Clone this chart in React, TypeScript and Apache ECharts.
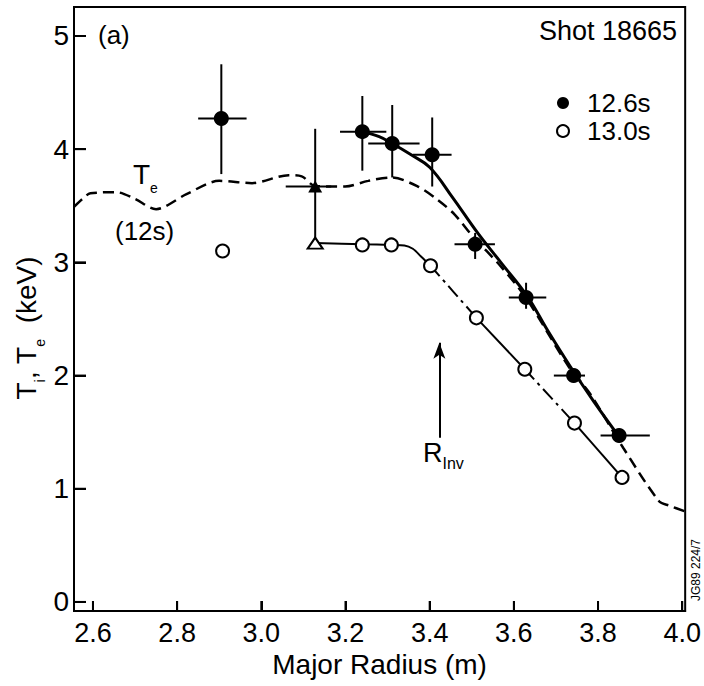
import React, { useEffect, useRef } from "react";
import * as echarts from "echarts";

const FONT = "'Liberation Sans', Arial, Helvetica, sans-serif";

// Axis ranges and ticks
const xRange = [2.555, 4.007];
const yRange = [-0.08, 5.256];
const xTicks = [2.6, 2.8, 3.0, 3.2, 3.4, 3.6, 3.8, 4.0];
const yTicks = [0, 1, 2, 3, 4, 5];

// Ti at 12.6 s (filled circles): [R (m), Ti (keV)]
const ti126 = [
  [2.905, 4.27], [3.24, 4.155], [3.311, 4.05], [3.406, 3.95],
  [3.508, 3.16], [3.629, 2.69], [3.742, 2.0], [3.85, 1.47],
];
// error bars for ti126: [xLo, xHi, yLo, yHi]
const ti126Err = [
  [2.85, 2.965, 3.78, 4.75], [3.187, 3.297, 3.81, 4.47], [3.254, 3.376, 3.75, 4.39],
  [3.36, 3.452, 3.67, 4.28], [3.459, 3.555, 3.03, 3.26], [3.588, 3.677, 2.59, 2.82],
  [3.695, 3.769, 1.94, 2.06], [3.806, 3.923, 1.41, 1.53],
];
// Ti at 13.0 s (open circles)
const ti130 = [
  [2.908, 3.1], [3.24, 3.154], [3.309, 3.154], [3.402, 2.97],
  [3.511, 2.51], [3.626, 2.056], [3.744, 1.58], [3.857, 1.1],
];
// triangles
const triFilled = [[3.128, 3.67]];
const triFilledErr = [[3.058, 3.166, 3.17, 4.18]];
const triOpen = [[3.128, 3.17]];

// fitted curve through 12.6 s
const fit126 = [
  [3.24, 4.155], [3.28, 4.11], [3.311, 4.05], [3.356, 3.95], [3.40, 3.84],
  [3.455, 3.57], [3.514, 3.26], [3.569, 3.0], [3.632, 2.7], [3.68, 2.4],
  [3.734, 2.08], [3.79, 1.77], [3.85, 1.46],
];
// curve through 13.0 s, as segments (solid / dash-dot)
const fit130Solid1 = [
  [3.128, 3.17], [3.24, 3.16], [3.309, 3.154], [3.34, 3.15], [3.36, 3.12],
  [3.38, 3.05], [3.402, 2.97],
];
const fit130DashDot1 = [[3.402, 2.97], [3.511, 2.51]];
const fit130Solid2 = [[3.511, 2.51], [3.626, 2.056]];
const fit130DashDot2 = [[3.626, 2.056], [3.744, 1.58]];
const fit130Solid3 = [[3.744, 1.58], [3.857, 1.1]];

// Te profile at 12 s (dashed)
const te12 = [
  [2.555, 3.49], [2.575, 3.56], [2.594, 3.61], [2.656, 3.62], [2.70, 3.56],
  [2.75, 3.47], [2.821, 3.6], [2.9, 3.72], [2.978, 3.7], [3.065, 3.77],
  [3.096, 3.76], [3.128, 3.675], [3.199, 3.67], [3.254, 3.72], [3.309, 3.75],
  [3.372, 3.67], [3.42, 3.55], [3.46, 3.42], [3.5, 3.24], [3.57, 2.96],
  [3.63, 2.68], [3.73, 2.08], [3.781, 1.84], [3.86, 1.36], [3.945, 0.89],
  [3.97, 0.85], [4.007, 0.8],
];

// inversion radius arrow
const rInvX = 3.423;
const rInvY = [1.45, 2.29];

const ERR_STYLE = { stroke: "#000", lineWidth: 2 };

function errItems(pts: number[][], errs: number[][]) {
  return pts.map((p, i) => [p[0], p[1], ...errs[i]]);
}

export default function App() {
  const ref = useRef<HTMLDivElement>(null);
  useEffect(() => {
    if (!ref.current) return;
    const chart = echarts.init(ref.current, undefined, { renderer: "svg" });

    const lineSeg = (name: string, data: number[][], type: any, width: number) => ({
      name,
      type: "line",
      data,
      smooth: 0.3,
      symbol: "none",
      z: 2,
      lineStyle: { color: "#000", width, type },
      silent: true,
    });

    const textGraphics: any[] = [
      {
        type: "text", x: 98, y: 35, z: 10,
        style: { text: "(a)", font: `26px ${FONT}`, fill: "#000", verticalAlign: "middle", align: "left" },
      },
      {
        type: "text", x: 677, y: 31, z: 10,
        style: { text: "Shot 18665", font: `27px ${FONT}`, fill: "#000", verticalAlign: "middle", align: "right" },
      },
      {
        type: "text", x: 133, y: 174, z: 10,
        style: {
          text: "{t|T}{s|e}", align: "left", verticalAlign: "middle",
          rich: {
            t: { fontSize: 28, fontFamily: FONT, lineHeight: 42, fill: "#000", color: "#000" },
            s: { fontSize: 14, fontFamily: FONT, lineHeight: 16, verticalAlign: "bottom", fill: "#000", color: "#000" },
          },
        },
      },
      {
        type: "text", x: 115, y: 231, z: 10,
        style: { text: "(12s)", font: `26px ${FONT}`, fill: "#000", verticalAlign: "middle", align: "left" },
      },
      {
        type: "text", x: 423, y: 453, z: 10,
        style: {
          text: "{t|R}{s|Inv}", align: "left", verticalAlign: "middle",
          rich: {
            t: { fontSize: 27, fontFamily: FONT, lineHeight: 37, fill: "#000", color: "#000" },
            s: { fontSize: 16, fontFamily: FONT, lineHeight: 18, verticalAlign: "bottom", fill: "#000", color: "#000" },
          },
        },
      },
      {
        type: "text", x: 26, y: 328, rotation: Math.PI / 2, z: 10,
        style: {
          text: "{t|T}{s|i}{t|, T}{s|e}{t|  (keV)}", align: "center", verticalAlign: "middle",
          rich: {
            t: { fontSize: 28, fontFamily: FONT, lineHeight: 42, fill: "#000", color: "#000" },
            s: { fontSize: 14, fontFamily: FONT, lineHeight: 16, verticalAlign: "bottom", fill: "#000", color: "#000" },
          },
        },
      },
      {
        type: "text", x: 696, y: 570, rotation: Math.PI / 2, z: 10,
        style: { text: "JG89 224/7", font: `12px ${FONT}`, fill: "#000", verticalAlign: "middle", align: "center" },
      },
    ];

    // tick marks as data items (kind 1 = x tick, kind 2 = y tick)
    const tickItems = [
      ...xTicks.map((v) => [v, 0.5, 1]),
      ...yTicks.map((v) => [3.0, v, 2]),
    ];

    const option: any = {
      animation: false,
      backgroundColor: "#fff",
      textStyle: { fontFamily: FONT, color: "#000" },
      grid: {
        left: 74, right: 15, top: 7, bottom: 75,
        show: true, borderColor: "#000", borderWidth: 2,
      },
      legend: {
        show: true,
        data: ["12.6s", "13.0s"],
        orient: "vertical",
        left: 551,
        top: 85,
        itemWidth: 38,
        itemHeight: 12,
        itemGap: 2,
        selectedMode: false,
        textStyle: { fontSize: 26, color: "#000", fontFamily: FONT, lineHeight: 25 },
      },
      xAxis: {
        type: "value",
        min: xRange[0],
        max: xRange[1],
        axisLine: { show: true, onZero: false, lineStyle: { color: "#000", width: 2 } },
        axisTick: {
          show: true, inside: true, length: 10, customValues: xTicks,
          lineStyle: { color: "#000", width: 2 },
        },
        axisLabel: {
          customValues: xTicks,
          formatter: (v: number) => v.toFixed(1),
          fontSize: 27, color: "#000", margin: 8, fontFamily: FONT,
        },
        splitLine: { show: false },
        name: "Major Radius (m)",
        nameLocation: "middle",
        nameGap: 36,
        nameTextStyle: { fontSize: 28, color: "#000", fontFamily: FONT },
      },
      yAxis: {
        type: "value",
        min: yRange[0],
        max: yRange[1],
        axisLine: { show: true, onZero: false, lineStyle: { color: "#000", width: 2 } },
        axisTick: {
          show: true, inside: true, length: 12, customValues: yTicks,
          lineStyle: { color: "#000", width: 2 },
        },
        axisLabel: {
          customValues: yTicks,
          formatter: (v: number) => String(Math.round(v)),
          fontSize: 28, color: "#000", margin: 5, fontFamily: FONT,
        },
        splitLine: { show: false },
      },
      series: [
        lineSeg("Te 12s", te12, [11, 6], 2.5),
        {
          ...lineSeg("fit 12.6s", fit126, "solid", 3),
          smooth: 0.4,
          markLine: {
            silent: true,
            symbol: ["none", "arrow"],
            symbolSize: [9, 16],
            label: { show: false },
            lineStyle: { color: "#000", width: 2, type: "solid" },
            data: [[{ coord: [rInvX, rInvY[0]] }, { coord: [rInvX, rInvY[1]] }]],
          },
        },
        lineSeg("fit 13.0s a", fit130Solid1, "solid", 2),
        lineSeg("fit 13.0s b", fit130DashDot1, [14, 5, 3, 5], 2),
        lineSeg("fit 13.0s c", fit130Solid2, "solid", 2),
        lineSeg("fit 13.0s d", fit130DashDot2, [14, 5, 3, 5], 2),
        lineSeg("fit 13.0s e", fit130Solid3, "solid", 2),
        {
          name: "axis ticks",
          type: "custom",
          z: 6,
          silent: true,
          data: tickItems,
          encode: { x: 0, y: 1 },
          renderItem: (_params: any, api: any) => {
            const kind = api.value(2);
            if (kind === 1) {
              const px = api.coord([api.value(0), 0.5])[0];
              const yb = api.coord([3.0, yRange[0]])[1];
              return { type: "rect", shape: { x: px - 1, y: yb - 10, width: 2, height: 10 }, style: { fill: "#000" } };
            }
            const py = api.coord([3.0, api.value(1)])[1];
            const xl = api.coord([xRange[0], 0.5])[0];
            return { type: "rect", shape: { x: xl, y: py - 1, width: 12, height: 2 }, style: { fill: "#000" } };
          },
        },
        {
          name: "error bars",
          type: "custom",
          z: 3,
          silent: true,
          data: [...errItems(ti126, ti126Err), ...errItems(triFilled, triFilledErr)],
          encode: { x: 0, y: 1 },
          renderItem: (_params: any, api: any) => {
            const x = api.value(0), y = api.value(1);
            const a = api.coord([api.value(2), y]);
            const b = api.coord([api.value(3), y]);
            const c = api.coord([x, api.value(4)]);
            const d = api.coord([x, api.value(5)]);
            return {
              type: "group",
              children: [
                { type: "line", shape: { x1: a[0], y1: a[1], x2: b[0], y2: b[1] }, style: ERR_STYLE },
                { type: "line", shape: { x1: c[0], y1: c[1], x2: d[0], y2: d[1] }, style: ERR_STYLE },
              ],
            };
          },
        },
        {
          name: "12.6s",
          type: "scatter",
          data: ti126,
          symbol: "circle",
          symbolSize: 15,
          z: 4,
          itemStyle: { color: "#000", opacity: 1 },
        },
        {
          name: "13.0s",
          type: "scatter",
          data: ti130,
          symbol: "circle",
          symbolSize: 13,
          z: 4,
          itemStyle: { color: "#fff", borderColor: "#000", borderWidth: 2, opacity: 1 },
        },
        {
          name: "triangle filled",
          type: "scatter",
          data: triFilled,
          symbol: "triangle",
          symbolSize: [14, 12],
          z: 4,
          itemStyle: { color: "#000", opacity: 1 },
        },
        {
          name: "triangle open",
          type: "scatter",
          data: triOpen,
          symbol: "triangle",
          symbolSize: [15, 11],
          z: 4,
          itemStyle: { color: "#fff", borderColor: "#000", borderWidth: 2, opacity: 1 },
        },
      ],
      graphic: textGraphics,
    };
    chart.setOption(option);

    return () => chart.dispose();
  }, []);
  return (
    <div
      ref={ref}
      style={{ position: "fixed", left: 0, top: 0, width: 704, height: 686, background: "#fff" }}
    />
  );
}
